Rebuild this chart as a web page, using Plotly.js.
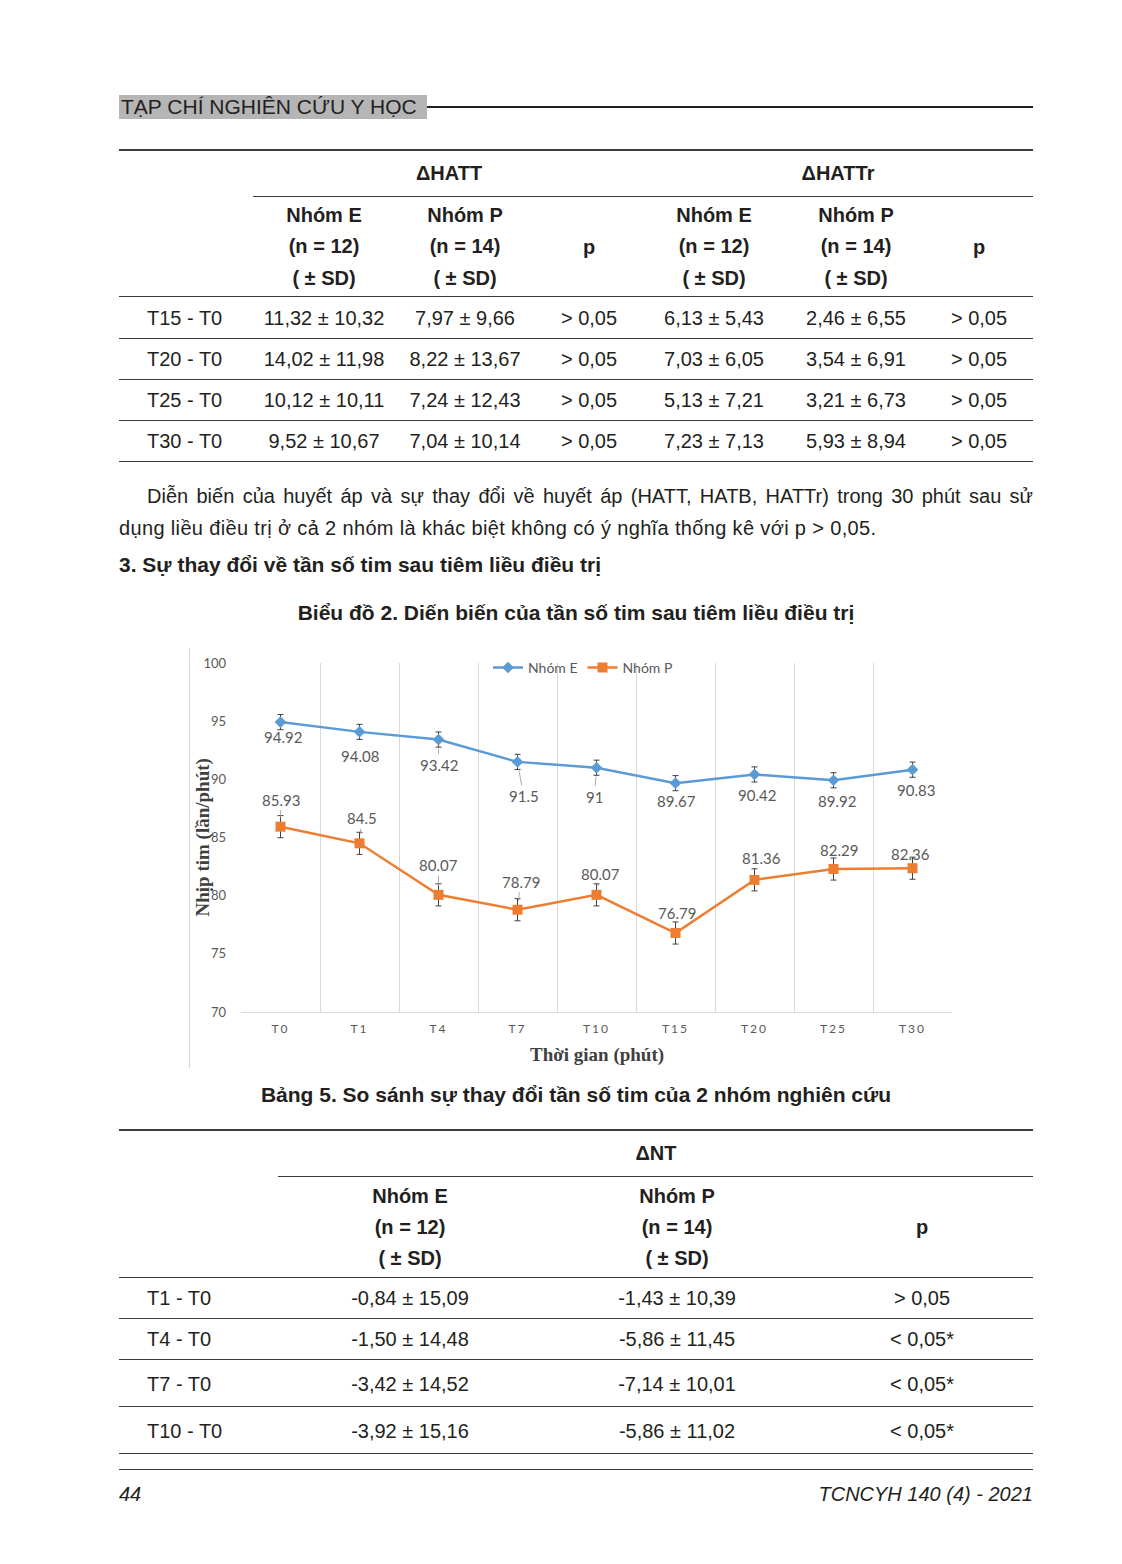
<!DOCTYPE html>
<html><head><meta charset="utf-8">
<script src="https://cdn.plot.ly/plotly-3.0.1.min.js"></script>
<style>
body{margin:0;background:#fff;width:1122px;height:1564px;position:relative;font-family:"Liberation Sans",Arial,sans-serif;color:#231f20;overflow:hidden}
.t{position:absolute;white-space:nowrap;font-size:20px;line-height:24px}
.c{transform:translateX(-50%)}
.r{transform:translateX(-100%)}
.b{font-weight:bold}
.i{font-style:italic}
.hl{position:absolute;height:0;border-top:1.5px solid #3c3c3c}
#chart .xtick text{letter-spacing:2px}
</style></head><body>
<div id="page"></div>
<div style="position:absolute;left:189px;top:648px;width:0;height:420px;border-left:1px solid #d4d4d4"></div>
<div id="chart" style="position:absolute;left:189px;top:645px;width:770px;height:425px"></div>
<script>
// ---- chart data ----
const timePoints = ["T0","T1","T4","T7","T10","T15","T20","T25","T30"];
const nhomE = [94.92, 94.08, 93.42, 91.5, 91, 89.67, 90.42, 89.92, 90.83];
const nhomP = [85.93, 84.5, 80.07, 78.79, 80.07, 76.79, 81.36, 82.29, 82.36];
const errE = [0.65, 0.65, 0.65, 0.65, 0.65, 0.65, 0.65, 0.65, 0.65];
const errP = [0.95, 0.95, 0.95, 0.95, 0.95, 0.95, 0.95, 0.95, 0.95];
const yTicks = [70, 75, 80, 85, 90, 95, 100];

// ---- table 4 data ----
const t4Rows = ["T15 - T0","T20 - T0","T25 - T0","T30 - T0"];
const t4HattE = ["11,32 ± 10,32","14,02 ± 11,98","10,12 ± 10,11","9,52 ± 10,67"];
const t4HattP = ["7,97 ± 9,66","8,22 ± 13,67","7,24 ± 12,43","7,04 ± 10,14"];
const t4HattPv = ["> 0,05","> 0,05","> 0,05","> 0,05"];
const t4HattrE = ["6,13 ± 5,43","7,03 ± 6,05","5,13 ± 7,21","7,23 ± 7,13"];
const t4HattrP = ["2,46 ± 6,55","3,54 ± 6,91","3,21 ± 6,73","5,93 ± 8,94"];
const t4HattrPv = ["> 0,05","> 0,05","> 0,05","> 0,05"];

// ---- table 5 data ----
const t5Rows = ["T1 - T0","T4 - T0","T7 - T0","T10 - T0"];
const t5E = ["-0,84 ± 15,09","-1,50 ± 14,48","-3,42 ± 14,52","-3,92 ± 15,16"];
const t5P = ["-1,43 ± 10,39","-5,86 ± 11,45","-7,14 ± 10,01","-5,86 ± 11,02"];
const t5Pv = ["> 0,05","< 0,05*","< 0,05*","< 0,05*"];

// ---- page layout helpers ----
const page = document.getElementById('page');
function txt(s, x, cy, cls, extra){
  const d = document.createElement('div');
  d.className = 't ' + (cls||'');
  d.textContent = s;
  d.style.left = x + 'px';
  d.style.top = (cy - 12) + 'px';
  if (extra) Object.assign(d.style, extra);
  page.appendChild(d);
  return d;
}
function hline(x1, x2, y, w, col){
  const d = document.createElement('div');
  d.className = 'hl';
  d.style.left = x1 + 'px';
  d.style.width = (x2 - x1) + 'px';
  d.style.top = y + 'px';
  if (w) d.style.borderTopWidth = w + 'px';
  if (col) d.style.borderTopColor = col;
  page.appendChild(d);
}

// header
const hb = document.createElement('div');
Object.assign(hb.style,{position:'absolute',left:'119px',top:'95px',width:'308px',height:'24px',background:'#b5b5b5'});
page.appendChild(hb);
txt("TẠP CHÍ NGHIÊN CỨU Y HỌC", 121, 107, '', {fontSize:'21px'});
hline(427, 1033, 106, 2, '#231f20');

// table 4
hline(119, 1033, 149, 2);
txt("ΔHATT", 449, 173, 'c b');
txt("ΔHATTr", 838, 173, 'c b');
hline(253, 1033, 196);
const t4cols = [324, 465, 589, 714, 856, 979];
[[0,1],[3,4]].forEach(pair=>{
  txt("Nhóm E", t4cols[pair[0]], 215, 'c b'); txt("(n = 12)", t4cols[pair[0]], 246, 'c b'); txt("( ± SD)", t4cols[pair[0]], 278, 'c b');
  txt("Nhóm P", t4cols[pair[1]], 215, 'c b'); txt("(n = 14)", t4cols[pair[1]], 246, 'c b'); txt("( ± SD)", t4cols[pair[1]], 278, 'c b');
});
txt("p", t4cols[2], 247, 'c b');
txt("p", t4cols[5], 247, 'c b');
hline(119, 1033, 296);
const t4y = [318, 359, 400, 441];
const t4lines = [338, 379, 420, 461];
t4Rows.forEach((r, i)=>{
  txt(r, 147, t4y[i]);
  [t4HattE, t4HattP, t4HattPv, t4HattrE, t4HattrP, t4HattrPv].forEach((col, j)=> txt(col[i], t4cols[j], t4y[i], 'c'));
  hline(119, 1033, t4lines[i]);
});

// paragraph
txt("Diễn biến của huyết áp và sự thay đổi về huyết áp (HATT, HATB, HATTr) trong 30 phút sau sử", 147, 496, '',
  {width:'886px', textAlign:'justify', textAlignLast:'justify', whiteSpace:'normal'});
txt("dụng liều điều trị ở cả 2 nhóm là khác biệt không có ý nghĩa thống kê với p > 0,05.", 119, 528, '', {letterSpacing:'0.35px'});
txt("3. Sự thay đổi về tần số tim sau tiêm liều điều trị", 119, 565, 'b', {fontSize:'21px'});
txt("Biểu đồ 2. Diến biến của tần số tim sau tiêm liều điều trị", 576, 613, 'c b', {fontSize:'21px'});

// table 5
txt("Bảng 5. So sánh sự thay đổi tần số tim của 2 nhóm nghiên cứu", 576, 1095, 'c b', {fontSize:'21px'});
hline(119, 1033, 1129, 2);
txt("ΔNT", 656, 1153, 'c b');
hline(278, 1033, 1176);
const t5cols = [410, 677, 922];
txt("Nhóm E", t5cols[0], 1196, 'c b'); txt("(n = 12)", t5cols[0], 1227, 'c b'); txt("( ± SD)", t5cols[0], 1258, 'c b');
txt("Nhóm P", t5cols[1], 1196, 'c b'); txt("(n = 14)", t5cols[1], 1227, 'c b'); txt("( ± SD)", t5cols[1], 1258, 'c b');
txt("p", t5cols[2], 1227, 'c b');
hline(119, 1033, 1277);
const t5y = [1298, 1339, 1384, 1431];
const t5lines = [1318, 1359, 1406, 1453];
t5Rows.forEach((r, i)=>{
  txt(r, 147, t5y[i]);
  [t5E, t5P, t5Pv].forEach((col, j)=> txt(col[i], t5cols[j], t5y[i], 'c'));
  hline(119, 1033, t5lines[i]);
});
hline(119, 1033, 1469, 1.2);
txt("44", 119, 1494, 'i');
txt("TCNCYH 140 (4) - 2021", 1033, 1494, 'r i');

// ---- chart ----
const labelFont = {family:'Lato, Calibri, sans-serif', size:15, color:'#595959'};
const eLab = {dx:[2,0,0,6,-2,1,2,3,3], dy:[15,24,25,34,29,18,21,21,20], lead:[0,0,1,1,1,0,0,0,0]};
const pLab = {dx:[0,2,0,3,4,1,7,5,-2], dy:[-27,-25,-30,-28,-21,-20,-22,-19,-14], lead:[1,1,1,1,1,0,0,1,1]};
const annotations = [];
function addLabels(vals, cfg){
  vals.forEach((v, i)=>{
    annotations.push({x: timePoints[i], y: v, xref:'x', yref:'y', text: String(v),
      showarrow:true, arrowhead:0, arrowwidth:0.8, standoff:9,
      arrowcolor: cfg.lead[i] ? '#9a9a9a' : 'rgba(0,0,0,0)',
      ax: cfg.dx[i], ay: cfg.dy[i], font: labelFont});
  });
}
addLabels(nhomE, eLab);
addLabels(nhomP, pLab);
annotations.push({xref:'paper', yref:'paper', x:0, y:0.5, xanchor:'center', yanchor:'middle', xshift:-39, textangle:-90, showarrow:false,
  text:'<b>Nhịp tim (lần/phút)</b>', font:{family:'Liberation Serif, Times New Roman, serif', size:19, color:'#404040'}});
annotations.push({xref:'paper', yref:'paper', x:0.5, y:0, yanchor:'middle', yshift:-43, showarrow:false,
  text:'<b>Thời gian (phút)</b>', font:{family:'Liberation Serif, Times New Roman, serif', size:19, color:'#404040'}});

const traces = [
  {x: timePoints, y: nhomE, name:'Nhóm E', type:'scatter', mode:'lines+markers',
   line:{color:'#5B9BD5', width:2.5}, marker:{symbol:'diamond', size:9, color:'#5B9BD5'},
   error_y:{type:'data', array: errE, visible:true, color:'#404040', thickness:1, width:3}},
  {x: timePoints, y: nhomP, name:'Nhóm P', type:'scatter', mode:'lines+markers',
   line:{color:'#ED7D31', width:2.5}, marker:{symbol:'square', size:10, color:'#ED7D31'},
   error_y:{type:'data', array: errP, visible:true, color:'#404040', thickness:1, width:3}}
];
const layout = {
  width:770, height:425, margin:{l:52, r:7, t:16, b:58},
  paper_bgcolor:'rgba(0,0,0,0)', plot_bgcolor:'rgba(0,0,0,0)',
  font:{family:'Lato, Calibri, sans-serif', color:'#595959'},
  showlegend:true,
  legend:{orientation:'h', x:0.481, xanchor:'center', y:0.986, yanchor:'middle',
          font:{size:14, color:'#595959'}, bgcolor:'rgba(0,0,0,0)', itemwidth:30},
  xaxis:{type:'category', range:[-0.5, 8.5], tickson:'boundaries', ticks:'', showgrid:true,
         gridcolor:'#d9d9d9', gridwidth:1, showline:true, linecolor:'#d9d9d9', linewidth:1,
         tickfont:{size:12, color:'#595959'}, ticklabelstandoff:6, zeroline:false, fixedrange:true},
  yaxis:{range:[70, 100], tickvals: yTicks, ticks:'', showgrid:false, showline:false, zeroline:false,
         tickfont:{size:13, color:'#595959'}, ticklabelstandoff:14, fixedrange:true},
  annotations: annotations
};
Plotly.newPlot('chart', traces, layout, {staticPlot:true, displayModeBar:false});
</script>
</body></html>
